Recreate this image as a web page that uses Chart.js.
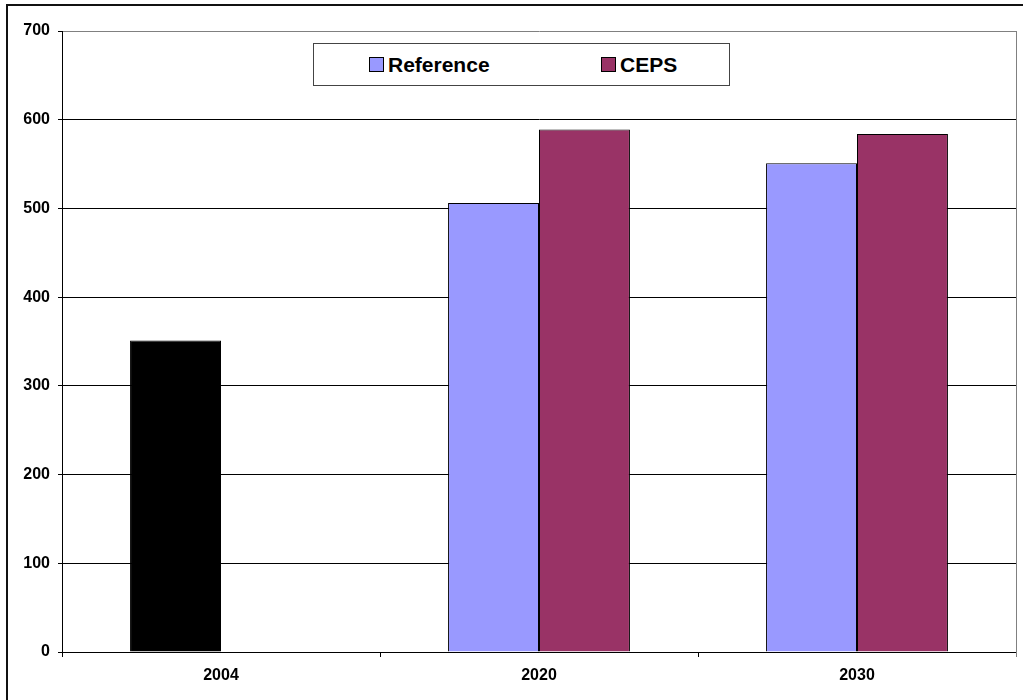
<!DOCTYPE html>
<html>
<head>
<meta charset="utf-8">
<script src="https://cdn.jsdelivr.net/npm/chart.js@4/dist/chart.umd.min.js"></script>
<style>
  html, body { margin: 0; padding: 0; background: #fff; }
  #wrap { position: relative; width: 1023px; height: 700px; overflow: hidden; }
  #frame { position: absolute; left: 6px; top: 4px; width: 1100px; height: 800px;
           border-left: 2px solid #111; border-top: 2px solid #111; box-sizing: border-box; }
  canvas { position: absolute; left: 0; top: 0; }
  #legend { position: absolute; left: 313px; top: 43px; width: 417px; height: 43px;
            border: 1px solid #444; box-sizing: border-box; background: #fff;
            font-family: "Liberation Sans", Arial, sans-serif; font-weight: bold; font-size: 21px; color: #000; }
  .item { position: absolute; top: 0; height: 41px; display: flex; align-items: center; }
  .swatch { width: 13px; height: 13px; border: 1px solid #000; margin-right: 4px; }
</style>
</head>
<body>
<div id="wrap">
  <div id="frame"></div>
  <canvas id="c" width="1023" height="700"></canvas>
  <div id="legend"></div>
</div>
<script>
const categories = ['2004', '2020', '2030'];
const referenceValues = [351, 506, 551];
const cepsValues = [null, 589, 584];
const yTicks = [0, 100, 200, 300, 400, 500, 600, 700];

const refColor = '#9999FF';
const cepsColor = '#993366';
// the historical 2004 value is shown in black
const refPointColors = ['#000000', refColor, refColor];

const FONT = '"Liberation Sans", Arial, sans-serif';

// gray frame on the right of the plot area, running down past the axis like a tick
const plotFrame = {
  id: 'plotFrame',
  afterDraw(chart) {
    const { ctx, chartArea: a } = chart;
    ctx.save();
    ctx.strokeStyle = '#808080';
    ctx.lineWidth = 1;
    ctx.beginPath();
    ctx.moveTo(a.right + 0.5, a.top);
    ctx.lineTo(a.right + 0.5, a.bottom + 5);
    ctx.stroke();
    ctx.restore();
  }
};

const chart = new Chart(document.getElementById('c'), {
  type: 'bar',
  data: {
    labels: categories,
    datasets: [
      { label: 'Reference', data: referenceValues, backgroundColor: refPointColors,
        borderColor: '#000', borderWidth: 1, legendColor: refColor },
      { label: 'CEPS', data: cepsValues, backgroundColor: cepsColor,
        borderColor: '#000', borderWidth: 1, legendColor: cepsColor }
    ]
  },
  options: {
    responsive: false,
    animation: false,
    layout: { padding: { left: 0, right: 7, top: 31, bottom: 0 } },
    plugins: { legend: { display: false }, tooltip: { enabled: false } },
    datasets: { bar: { categoryPercentage: 0.572, barPercentage: 1.0 } },
    scales: {
      x: {
        grid: { offset: true, drawOnChartArea: false, color: '#000', tickLength: 5, tickWidth: 1 },
        border: { display: true, color: '#000', width: 1 },
        ticks: { color: '#000', padding: 9, font: { family: FONT, size: 16, weight: 'bold' } },
        afterFit(s) { s.height = 48; }
      },
      y: {
        min: 0, max: 700,
        afterBuildTicks(s) { s.ticks = yTicks.map(v => ({ value: v })); },
        grid: {
          color: ctx => (ctx.tick && ctx.tick.value === 700 ? '#808080' : '#000'),
          tickColor: '#000', tickLength: 4, lineWidth: 1
        },
        border: { display: true, color: '#000', width: 1 },
        ticks: { color: '#000', padding: 8, font: { family: FONT, size: 16, weight: 'bold' } },
        afterFit(s) { s.width = 62; }
      }
    }
  },
  plugins: [plotFrame]
});

// legend box built from the dataset labels and colours
const legend = document.getElementById('legend');
const itemLeft = [55, 287];
chart.data.datasets.forEach((ds, i) => {
  const item = document.createElement('div');
  item.className = 'item';
  item.style.left = itemLeft[i] + 'px';
  const sw = document.createElement('div');
  sw.className = 'swatch';
  sw.style.background = ds.legendColor;
  const tx = document.createElement('span');
  tx.textContent = ds.label;
  item.appendChild(sw);
  item.appendChild(tx);
  legend.appendChild(item);
});
</script>
</body>
</html>
